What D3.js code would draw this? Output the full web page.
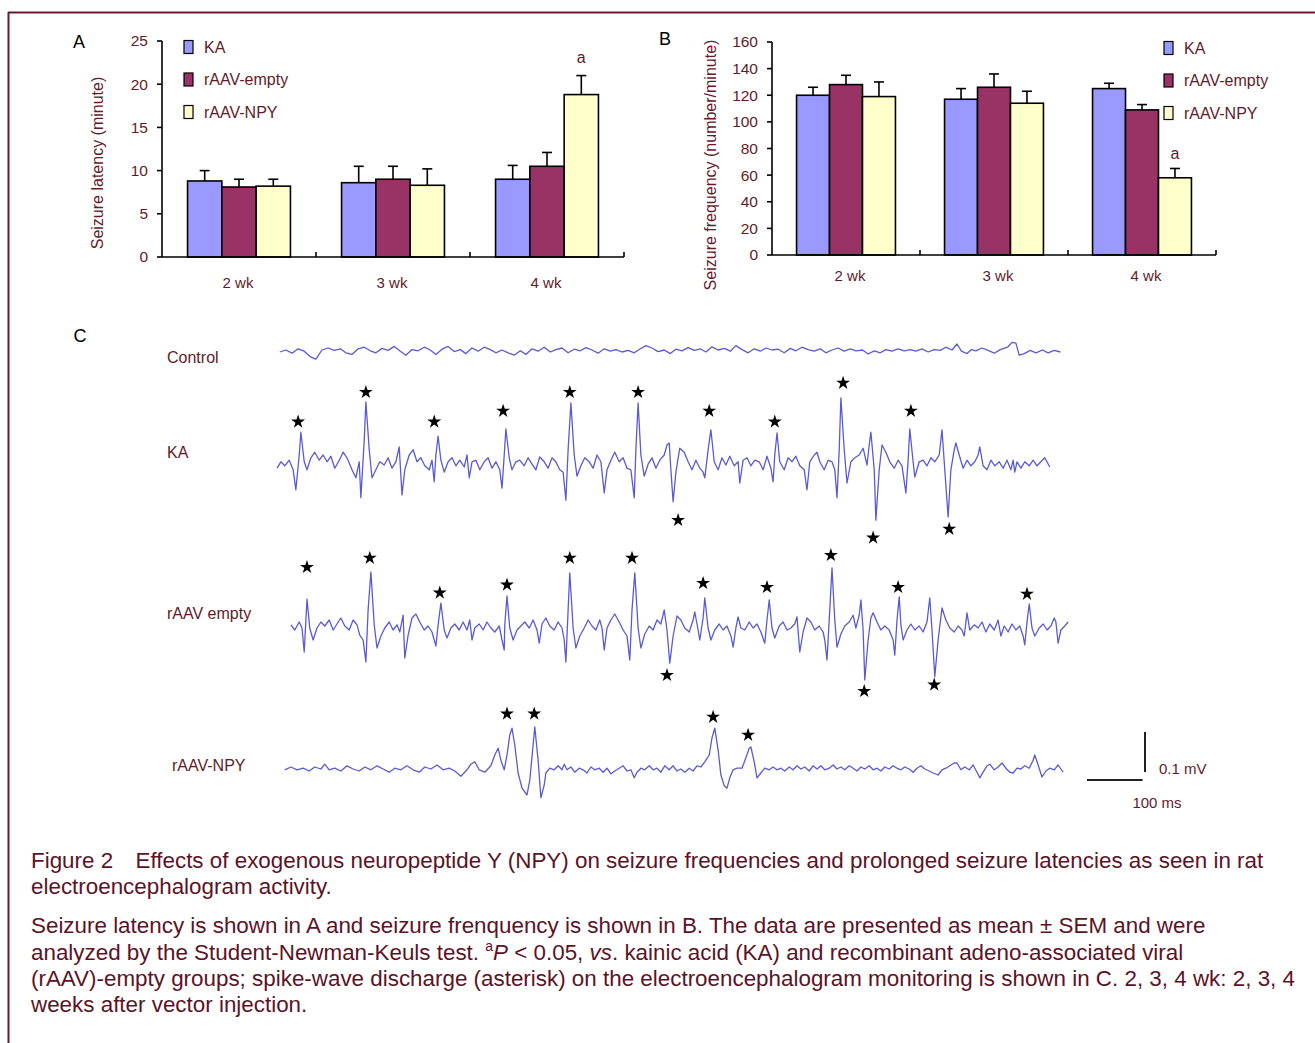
<!DOCTYPE html>
<html><head><meta charset="utf-8">
<script src="https://cdn.jsdelivr.net/npm/d3@7"></script>
<style>body{margin:0;background:#fff}svg{display:block}text{font-family:"Liberation Sans",Arial,sans-serif}</style>
</head><body><svg id="fig" width="1315" height="1043"></svg>
<script>
// ---------------- data ----------------
const categories = ["2 wk", "3 wk", "4 wk"];
const seriesNames = ["KA", "rAAV-empty", "rAAV-NPY"];
const seriesColors = ["#9999ff", "#993366", "#ffffcc"];

// Panel A: seizure latency (minute), mean and SEM
const latencyKA = [8.8, 8.6, 9.0];
const latencyKASem = [1.2, 1.9, 1.6];
const latencyEmpty = [8.1, 9.0, 10.5];
const latencyEmptySem = [0.9, 1.5, 1.6];
const latencyNPY = [8.2, 8.3, 18.8];
const latencyNPYSem = [0.8, 1.9, 2.2];
const latencyTicks = [0, 5, 10, 15, 20, 25];

// Panel B: seizure frequency (number/minute), mean and SEM
const freqKA = [120, 117, 125];
const freqKASem = [6, 8, 4];
const freqEmpty = [128, 126, 109];
const freqEmptySem = [7, 10, 4];
const freqNPY = [119, 114, 58];
const freqNPYSem = [11, 9, 7];
const freqTicks = [0, 20, 40, 60, 80, 100, 120, 140, 160];

// Panel C: EEG traces, [time ms, potential µV]
const controlTrace = [[5,0],[16,5],[27,-3],[38,8],[49,2],[60,-12],[70,-18],[81,5],[92,10],[103,4],[114,8],[124,-2],[135,-6],[146,8],[157,12],[168,3],[178,-2],[189,9],[200,4],[211,14],[222,2],[232,-8],[243,6],[254,3],[265,12],[276,5],[286,-6],[297,7],[308,14],[319,1],[330,6],[340,-4],[351,10],[362,2],[373,12],[384,6],[394,-2],[405,5],[416,-2],[427,-8],[438,3],[448,-6],[459,8],[470,2],[481,12],[492,0],[502,6],[513,10],[524,-2],[535,7],[546,3],[556,11],[567,5],[578,-3],[589,8],[600,2],[610,6],[621,0],[632,4],[643,-2],[654,8],[664,16],[675,10],[686,1],[697,5],[708,-4],[718,7],[729,3],[740,11],[751,4],[762,8],[772,0],[783,13],[794,5],[805,9],[816,2],[826,16],[837,6],[848,-2],[859,8],[870,2],[880,10],[891,5],[902,7],[913,-2],[924,9],[934,3],[945,12],[956,6],[967,2],[978,8],[988,-2],[999,5],[1010,10],[1021,2],[1032,8],[1042,3],[1054,5],[1064,-5],[1075,3],[1086,-2],[1096,6],[1107,2],[1118,8],[1129,3],[1140,6],[1150,2],[1161,8],[1172,0],[1183,6],[1194,4],[1204,12],[1215,5],[1224,20],[1232,2],[1242,-4],[1250,6],[1258,3],[1269,10],[1280,4],[1291,-3],[1302,6],[1315,12],[1323,24],[1330,22],[1336,-8],[1345,-4],[1356,4],[1366,-2],[1378,5],[1388,-2],[1399,4],[1410,0]];

const kaTrace = [[0,-8],[7,8],[14,-2],[22,12],[29,-12],[34,-62],[40,25],[43,82],[49,8],[54,-12],[61,18],[68,32],[76,12],[83,25],[90,8],[97,22],[104,-8],[112,12],[119,32],[126,18],[135,-12],[142,-32],[148,8],[151,-82],[157,62],[160,158],[166,38],[171,-32],[178,-12],[185,8],[193,0],[200,18],[207,-8],[214,8],[220,45],[225,-75],[230,-12],[238,25],[245,38],[252,8],[259,18],[266,-2],[274,-12],[279,12],[283,-42],[286,25],[290,72],[295,12],[301,-18],[308,8],[315,18],[322,-2],[329,12],[337,-5],[342,25],[346,-32],[351,8],[358,12],[365,-12],[373,8],[380,18],[387,-8],[394,8],[401,-12],[405,-58],[409,25],[412,90],[418,18],[423,-12],[430,8],[437,12],[445,-2],[452,18],[459,2],[466,-12],[473,20],[481,8],[488,-8],[495,18],[502,8],[509,-12],[515,-18],[520,-88],[524,38],[529,155],[535,25],[540,-28],[547,-2],[554,18],[562,8],[569,-8],[576,25],[583,8],[589,-70],[594,-12],[601,12],[608,32],[616,8],[623,18],[630,-8],[637,-12],[643,-82],[646,38],[650,155],[655,25],[661,-28],[668,2],[675,18],[682,-8],[689,12],[697,25],[702,50],[706,55],[709,-12],[713,-92],[718,-18],[725,42],[733,32],[740,8],[747,-12],[754,12],[761,-8],[767,-18],[770,-32],[776,38],[781,88],[787,8],[794,-12],[801,18],[808,0],[815,22],[823,-2],[830,8],[833,-45],[839,12],[846,18],[853,-2],[860,12],[868,8],[875,-12],[882,22],[889,-8],[893,-42],[896,25],[900,80],[905,8],[913,-12],[920,18],[927,8],[934,22],[941,-2],[949,-12],[954,-62],[959,8],[967,25],[972,32],[977,8],[985,-12],[992,12],[999,8],[1004,-12],[1008,-82],[1012,38],[1015,168],[1021,38],[1026,-45],[1033,8],[1040,18],[1048,25],[1055,42],[1062,0],[1066,50],[1069,82],[1075,-12],[1078,-138],[1084,-12],[1089,50],[1096,32],[1103,8],[1111,-8],[1118,12],[1125,-2],[1132,-70],[1136,12],[1139,90],[1145,8],[1148,-30],[1156,8],[1163,12],[1170,-2],[1177,18],[1184,8],[1192,25],[1197,88],[1202,-12],[1208,-130],[1213,-12],[1219,38],[1222,55],[1228,25],[1235,-8],[1242,12],[1249,-2],[1256,8],[1262,25],[1265,45],[1271,-2],[1278,-12],[1285,12],[1292,-2],[1300,8],[1307,-8],[1314,12],[1321,-12],[1325,12],[1328,-18],[1332,8],[1339,-8],[1346,8],[1354,-2],[1361,12],[1368,-2],[1375,8],[1382,18],[1391,-5]];

const emptyTrace = [[25,8],[32,-5],[40,15],[45,0],[49,-60],[52,20],[54,72],[59,0],[65,-30],[72,0],[79,15],[86,5],[94,20],[101,-5],[108,10],[115,25],[122,5],[130,-5],[137,20],[144,8],[149,-18],[155,-30],[160,-85],[164,45],[169,140],[175,8],[180,-50],[187,-20],[194,0],[202,15],[209,-5],[216,8],[221,-10],[227,32],[230,-75],[236,-18],[243,25],[250,35],[257,15],[265,-5],[272,5],[279,-10],[283,-30],[286,-45],[290,8],[295,62],[301,-5],[306,-25],[313,0],[320,10],[328,-5],[335,15],[342,-5],[347,20],[351,-30],[356,0],[364,10],[371,-5],[378,15],[385,0],[392,-10],[400,5],[405,-30],[409,-55],[410,8],[414,80],[419,0],[425,-30],[432,-5],[439,5],[446,15],[454,0],[461,20],[468,-5],[472,-38],[477,10],[484,25],[491,5],[499,-5],[506,15],[513,0],[517,-30],[520,-85],[524,45],[527,138],[533,0],[538,-50],[545,-20],[553,0],[560,20],[567,5],[574,-5],[581,20],[585,0],[589,-55],[594,0],[601,20],[608,35],[616,15],[623,-5],[630,-20],[635,-80],[639,45],[644,138],[650,0],[655,-50],[662,-15],[670,5],[677,-5],[684,20],[691,10],[697,45],[702,-5],[707,-88],[713,-20],[720,30],[727,20],[734,0],[742,-10],[749,20],[752,40],[758,-5],[761,-30],[767,25],[770,75],[776,0],[781,-30],[788,-5],[796,10],[803,-5],[810,5],[817,-20],[821,-48],[826,0],[830,28],[835,0],[842,-5],[850,15],[857,0],[864,10],[871,-10],[878,-38],[882,20],[886,70],[891,0],[896,-25],[904,5],[911,15],[918,-5],[925,0],[932,10],[936,28],[941,-60],[947,-10],[954,25],[961,15],[968,-5],[976,5],[983,-10],[986,-30],[990,-80],[994,20],[999,150],[1004,20],[1008,-48],[1015,-15],[1022,5],[1030,15],[1037,32],[1042,0],[1048,32],[1051,70],[1055,-5],[1058,-130],[1064,-30],[1069,25],[1073,38],[1080,15],[1087,-5],[1094,5],[1102,-5],[1109,-30],[1112,-68],[1116,20],[1120,78],[1123,8],[1127,-30],[1134,-5],[1141,10],[1148,-5],[1156,5],[1163,-10],[1170,15],[1175,75],[1179,-5],[1184,-122],[1190,-30],[1197,50],[1204,20],[1211,0],[1219,-10],[1226,5],[1233,-5],[1237,-20],[1242,38],[1247,-5],[1255,8],[1262,0],[1269,15],[1276,-10],[1283,10],[1291,-5],[1298,20],[1303,-20],[1309,5],[1316,-10],[1323,10],[1330,-5],[1337,5],[1343,-20],[1346,-42],[1350,15],[1354,60],[1359,0],[1364,-20],[1372,0],[1379,10],[1386,-5],[1393,5],[1399,25],[1402,15],[1406,-38],[1411,-5],[1418,5],[1424,15]];

const npyTrace = [[14,-2],[25,5],[36,-2],[47,2],[58,-5],[68,5],[79,0],[86,12],[94,-2],[104,2],[115,-5],[126,8],[137,0],[148,-5],[158,5],[169,-2],[180,8],[191,0],[202,-8],[212,2],[223,-2],[234,8],[245,-2],[256,-8],[266,5],[277,0],[288,10],[299,-2],[310,2],[320,-5],[331,-18],[342,-2],[349,12],[356,18],[364,-2],[374,-8],[385,8],[392,35],[398,52],[403,22],[409,-2],[414,35],[419,85],[423,102],[428,60],[434,-10],[441,-48],[450,-65],[455,-28],[461,60],[464,105],[470,22],[475,-72],[481,-40],[484,-10],[491,2],[499,-2],[506,8],[513,-2],[517,12],[522,-2],[529,5],[536,-8],[544,2],[551,-2],[558,-10],[565,5],[572,-2],[580,2],[587,-8],[594,2],[601,-12],[608,-5],[616,2],[623,8],[630,-5],[637,-2],[643,-22],[648,-8],[655,2],[662,-2],[670,8],[677,-2],[684,2],[691,-8],[698,8],[706,-2],[713,8],[720,-5],[727,0],[734,-8],[742,2],[749,-5],[756,8],[763,5],[770,18],[778,35],[783,78],[788,102],[794,48],[799,-15],[805,-42],[810,-48],[815,-22],[821,-2],[828,2],[837,2],[844,28],[850,52],[853,55],[859,18],[864,-22],[871,-10],[878,2],[886,-2],[893,5],[900,-2],[907,2],[914,-5],[922,5],[929,-2],[936,8],[943,0],[950,5],[958,-5],[965,8],[972,0],[979,8],[986,-2],[994,2],[1001,10],[1008,0],[1015,5],[1022,-2],[1030,8],[1037,2],[1044,-5],[1051,5],[1058,0],[1066,8],[1073,-2],[1080,2],[1087,-5],[1094,5],[1102,0],[1109,8],[1116,2],[1123,-2],[1130,5],[1138,0],[1145,-8],[1152,2],[1159,8],[1166,0],[1174,-5],[1181,-10],[1190,-15],[1197,-2],[1204,2],[1211,8],[1219,15],[1224,15],[1231,-2],[1238,5],[1246,-2],[1253,10],[1260,-8],[1265,-22],[1271,-8],[1278,8],[1283,12],[1291,-2],[1298,5],[1305,15],[1312,2],[1319,-8],[1325,-10],[1332,2],[1339,0],[1346,8],[1354,2],[1361,22],[1364,35],[1370,10],[1377,-20],[1384,-5],[1391,2],[1399,-2],[1406,10],[1411,0],[1415,-8]];

// spike-wave discharges marked with asterisks, [time ms, µV]
const kaStars = [[38,108],[160,182],[283,108],[407,135],[527,182],[650,182],[778,135],[896,108],[1019,205],[1141,135],[722,-138],[1073,-182],[1210,-160]];
const emptyStars = [[54,152],[167,175],[293,88],[414,108],[527,175],[639,175],[767,112],[882,102],[997,182],[1118,102],[1350,85],[702,-118],[1057,-158],[1183,-142]];
const npyStars = [[414,138],[463,138],[785,130],[848,85]];

const traceNames = ["Control", "KA", "rAAV empty", "rAAV-NPY"];
const scaleBarMs = 100;
const scaleBarUv = 100;

// ---------------- drawing ----------------
const svg = d3.select("#fig");
const dark = "#641a28";
svg.append("rect").attr("width", 1315).attr("height", 1043).attr("fill", "#fff");

// frame
svg.append("line").attr("x1", 8).attr("x2", 1315).attr("y1", 12.5).attr("y2", 12.5).attr("stroke", "#6b1a2a").attr("stroke-width", 2);
svg.append("line").attr("x1", 8.5).attr("x2", 8.5).attr("y1", 12).attr("y2", 1043).attr("stroke", "#6b1a2a").attr("stroke-width", 2);

function barPanel(o) {
  const g = svg.append("g");
  const y = d3.scaleLinear().domain([0, o.max]).range([o.yBottom, o.yTop]);
  const x0 = d3.scaleBand().domain(categories).range([o.xLeft, o.xRight]).paddingInner(0).paddingOuter(0);
  const x1 = d3.scaleBand().domain(seriesNames).range([0, x0.bandwidth()]).paddingInner(0).paddingOuter(o.outer);

  categories.forEach((c, ci) => {
    seriesNames.forEach((s, si) => {
      const v = o.values[si][ci], e = o.sems[si][ci];
      const bx = x0(c) + x1(s), bw = x1.bandwidth();
      const cx = bx + bw / 2;
      g.append("line").attr("x1", cx).attr("x2", cx).attr("y1", y(v)).attr("y2", y(v + e))
        .attr("stroke", "#000").attr("stroke-width", 1.6);
      g.append("line").attr("x1", cx - 5).attr("x2", cx + 5).attr("y1", y(v + e)).attr("y2", y(v + e))
        .attr("stroke", "#000").attr("stroke-width", 1.6);
      g.append("rect").attr("x", bx).attr("y", y(v)).attr("width", bw).attr("height", y(0) - y(v))
        .attr("fill", seriesColors[si]).attr("stroke", "#000").attr("stroke-width", 1.6);
    });
  });
  const sc = categories[o.sig[1]], ss = seriesNames[o.sig[0]];
  g.append("text").attr("x", x0(sc) + x1(ss) + x1.bandwidth() / 2).attr("y", y(o.sigAt))
    .attr("text-anchor", "middle").attr("font-size", 16).attr("fill", dark).text("a");

  g.append("line").attr("x1", o.xLeft).attr("x2", o.xLeft).attr("y1", o.yBottom).attr("y2", o.yTop).attr("stroke", "#000").attr("stroke-width", 1.6);
  o.ticks.forEach(t => {
    g.append("line").attr("x1", o.xLeft - 5).attr("x2", o.xLeft).attr("y1", y(t)).attr("y2", y(t)).attr("stroke", "#000").attr("stroke-width", 1.6);
    g.append("text").attr("x", o.xLeft - 14).attr("y", y(t)).attr("dy", "0.35em").attr("text-anchor", "end")
      .attr("font-size", 15.5).attr("fill", dark).text(t);
  });
  g.append("line").attr("x1", o.xLeft).attr("x2", o.xRight).attr("y1", o.yBottom).attr("y2", o.yBottom).attr("stroke", "#000").attr("stroke-width", 1.6);
  categories.forEach(c => {
    const xe = x0(c) + x0.bandwidth();
    g.append("line").attr("x1", xe).attr("x2", xe).attr("y1", o.yBottom).attr("y2", o.yBottom - 5).attr("stroke", "#000").attr("stroke-width", 1.6);
    g.append("text").attr("x", x0(c) + x0.bandwidth() / 2 + o.labelDx).attr("y", o.yBottom + o.labelDy)
      .attr("text-anchor", "middle").attr("font-size", 15).attr("fill", dark).text(c);
  });
  g.append("text").attr("transform", `translate(${o.titleX},${o.titleY}) rotate(-90)`)
    .attr("text-anchor", "middle").attr("font-size", 16).attr("fill", dark).text(o.title);
  seriesNames.forEach((s, i) => {
    const ly = o.legendY + i * 32.5;
    g.append("rect").attr("x", o.legendX).attr("y", ly - 6.5).attr("width", 9).attr("height", 13)
      .attr("fill", seriesColors[i]).attr("stroke", "#000").attr("stroke-width", 1.2);
    g.append("text").attr("x", o.legendX + 20).attr("y", ly).attr("dy", "0.35em")
      .attr("font-size", 16).attr("fill", dark).text(s);
  });
  g.append("text").attr("x", o.letterX).attr("y", o.letterY).attr("dy", "0.35em").attr("text-anchor", "middle")
    .attr("font-size", 18).attr("fill", "#000").text(o.letter);
}

barPanel({
  letter: "A", letterX: 79, letterY: 42,
  xLeft: 162, xRight: 624, yTop: 41, yBottom: 257, max: 25, ticks: latencyTicks,
  outer: 0.745,
  values: [latencyKA, latencyEmpty, latencyNPY], sems: [latencyKASem, latencyEmptySem, latencyNPYSem],
  sig: [2, 2], sigAt: 22.4,
  title: "Seizure latency (minute)", titleX: 103, titleY: 163,
  labelDx: -1, labelDy: 31,
  legendX: 184, legendY: 47
});
barPanel({
  letter: "B", letterX: 665, letterY: 39,
  xLeft: 772, xRight: 1216, yTop: 42, yBottom: 255, max: 160, ticks: freqTicks,
  outer: 0.745,
  values: [freqKA, freqEmpty, freqNPY], sems: [freqKASem, freqEmptySem, freqNPYSem],
  sig: [2, 2], sigAt: 72,
  title: "Seizure frequency (number/minute)", titleX: 716, titleY: 165,
  labelDx: 4, labelDy: 26,
  legendX: 1164, legendY: 48
});

// ---------------- Panel C ----------------
svg.append("text").attr("x", 80).attr("y", 336).attr("dy", "0.35em").attr("text-anchor", "middle")
  .attr("font-size", 18).attr("fill", "#000").text("C");

const xT = d3.scaleLinear().domain([0, 1800]).range([277, 1277]);
const traceBaselines = [352, 465, 628, 769];
const labelPos = [[167, 357], [167, 452], [167, 613], [172, 765]];
const traces = [controlTrace, kaTrace, emptyTrace, npyTrace];
const stars = [[], kaStars, emptyStars, npyStars];
const starSym = d3.symbol().type(d3.symbolStar).size(60);

traces.forEach((tr, i) => {
  const yT = d3.scaleLinear().domain([0, 100]).range([traceBaselines[i], traceBaselines[i] - 40]);
  const line = d3.line().x(d => xT(d[0])).y(d => yT(d[1]));
  svg.append("path").datum(tr).attr("d", line).attr("fill", "none")
    .attr("stroke", "#5a5ad4").attr("stroke-width", 1.3).attr("stroke-linejoin", "round");
  svg.selectAll(null).data(stars[i]).enter().append("path")
    .attr("d", starSym).attr("transform", d => `translate(${xT(d[0])},${yT(d[1])})`).attr("fill", "#000");
  svg.append("text").attr("x", labelPos[i][0]).attr("y", labelPos[i][1]).attr("dy", "0.35em")
    .attr("font-size", 16).attr("fill", dark).text(traceNames[i]);
});

// scale bar
const barT0 = 1458;
const ySB = d3.scaleLinear().domain([0, 100]).range([772, 732]);
svg.append("line").attr("x1", 1145).attr("x2", 1145).attr("y1", ySB(0)).attr("y2", ySB(scaleBarUv)).attr("stroke", "#222").attr("stroke-width", 2);
svg.append("line").attr("x1", xT(barT0)).attr("x2", xT(barT0 + scaleBarMs)).attr("y1", 780).attr("y2", 780).attr("stroke", "#222").attr("stroke-width", 2);
svg.append("text").attr("x", 1159).attr("y", 769).attr("dy", "0.35em").attr("font-size", 15).attr("fill", dark).text("0.1 mV");
svg.append("text").attr("x", 1157).attr("y", 803).attr("dy", "0.35em").attr("text-anchor", "middle").attr("font-size", 15).attr("fill", dark).text("100 ms");

// ---------------- caption ----------------
const cap = svg.append("g").attr("font-size", 22.4).attr("fill", "#5c1326");
const capLines = [
  [868, "Figure 2\u2002\u2002Effects of exogenous neuropeptide Y (NPY) on seizure frequencies and prolonged seizure latencies as seen in rat"],
  [894, "electroencephalogram activity."],
  [933, "Seizure latency is shown in A and seizure frenquency is shown in B. The data are presented as mean \u00b1 SEM and were"],
  [986, "(rAAV)-empty groups; spike-wave discharge (asterisk) on the electroencephalogram monitoring is shown in C. 2, 3, 4 wk: 2, 3, 4"],
  [1012, "weeks after vector injection."]
];
capLines.forEach(([yy, t]) => cap.append("text").attr("x", 31).attr("y", yy).text(t));
const l4 = cap.append("text").attr("x", 31).attr("y", 960);
l4.append("tspan").text("analyzed by the Student-Newman-Keuls test. ");
l4.append("tspan").attr("font-size", 14).attr("dy", -9).text("a");
l4.append("tspan").attr("dy", 9).attr("font-style", "italic").text("P");
l4.append("tspan").text(" < 0.05, ");
l4.append("tspan").attr("font-style", "italic").text("vs");
l4.append("tspan").text(". kainic acid (KA) and recombinant adeno-associated viral");
</script></body></html>
